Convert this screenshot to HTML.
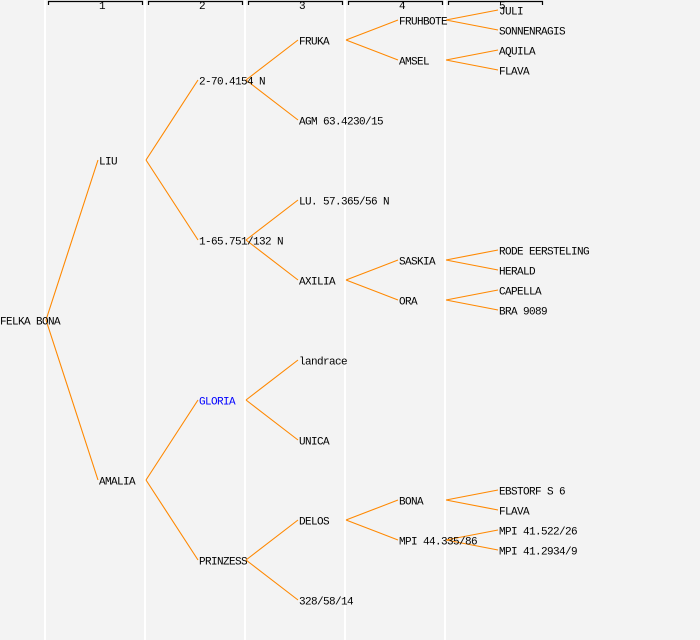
<!DOCTYPE html>
<html><head><style>
html,body{margin:0;padding:0;background:#f3f3f3;}
svg{display:block}
text{font-family:"Liberation Mono","DejaVu Sans Mono",monospace;font-size:11px;letter-spacing:-0.6px;fill:#000;dominant-baseline:central}
</style></head><body>
<svg width="700" height="640" xmlns="http://www.w3.org/2000/svg">
<rect width="700" height="640" fill="#f3f3f3"/>
<g fill="#fff">
<rect x="44" y="0" width="2" height="640"/>
<rect x="144" y="0" width="2" height="640"/>
<rect x="244" y="0" width="2" height="640"/>
<rect x="344" y="0" width="2" height="640"/>
<rect x="444" y="0" width="2" height="640"/>
</g>
<g stroke="#000" stroke-width="1.2" fill="none">
<path d="M48.5 5V1.5H142.5V5"/>
<path d="M148.5 5V1.5H242.5V5"/>
<path d="M248.5 5V1.5H342.5V5"/>
<path d="M348.5 5V1.5H442.5V5"/>
<path d="M448.5 5V1.5H542.5V5"/>
</g>
<g style="font-size:9px;letter-spacing:0" text-anchor="middle">
<text x="102" y="7">1</text><text x="202" y="7">2</text><text x="302" y="7">3</text><text x="402" y="7">4</text><text x="502" y="7">5</text>
</g>
<g stroke="#ff8800" stroke-width="1.1" fill="none">
<path d="M46 320L98 160M46 320L98 480"/>
<path d="M146 160L198 80M146 160L198 240M146 480L198 400M146 480L198 560"/>
<path d="M246 80L298 40M246 80L298 120M246 240L298 200M246 240L298 280M246 400L298 360M246 400L298 440M246 560L298 520M246 560L298 600"/>
<path d="M346 40L398 20M346 40L398 60M346 280L398 260M346 280L398 300M346 520L398 500M346 520L398 540"/>
<path d="M446 20L498 10M446 20L498 30M446 60L498 50M446 60L498 70M446 260L498 250M446 260L498 270M446 300L498 290M446 300L498 310M446 500L498 490M446 500L498 510M446 540L498 530M446 540L498 550"/>
</g>
<text x="0" y="322.5">FELKA BONA</text>
<text x="99" y="162.5">LIU</text>
<text x="99" y="482.5">AMALIA</text>
<text x="199" y="82.5">2-70.4154 N</text>
<text x="199" y="242.5">1-65.751/132 N</text>
<text x="199" y="402.5" style="fill:#0000ff">GLORIA</text>
<text x="199" y="562.5">PRINZESS</text>
<text x="299" y="42.5">FRUKA</text>
<text x="299" y="122.5">AGM 63.4230/15</text>
<text x="299" y="202.5">LU. 57.365/56 N</text>
<text x="299" y="282.5">AXILIA</text>
<text x="299" y="362.5">landrace</text>
<text x="299" y="442.5">UNICA</text>
<text x="299" y="522.5">DELOS</text>
<text x="299" y="602.5">328/58/14</text>
<text x="399" y="22.5">FRUHBOTE</text>
<text x="399" y="62.5">AMSEL</text>
<text x="399" y="262.5">SASKIA</text>
<text x="399" y="302.5">ORA</text>
<text x="399" y="502.5">BONA</text>
<text x="399" y="542.5">MPI 44.335/86</text>
<text x="499" y="12.5">JULI</text>
<text x="499" y="32.5">SONNENRAGIS</text>
<text x="499" y="52.5">AQUILA</text>
<text x="499" y="72.5">FLAVA</text>
<text x="499" y="252.5">RODE EERSTELING</text>
<text x="499" y="272.5">HERALD</text>
<text x="499" y="292.5">CAPELLA</text>
<text x="499" y="312.5">BRA 9089</text>
<text x="499" y="492.5">EBSTORF S 6</text>
<text x="499" y="512.5">FLAVA</text>
<text x="499" y="532.5">MPI 41.522/26</text>
<text x="499" y="552.5">MPI 41.2934/9</text>
</svg>
</body></html>
